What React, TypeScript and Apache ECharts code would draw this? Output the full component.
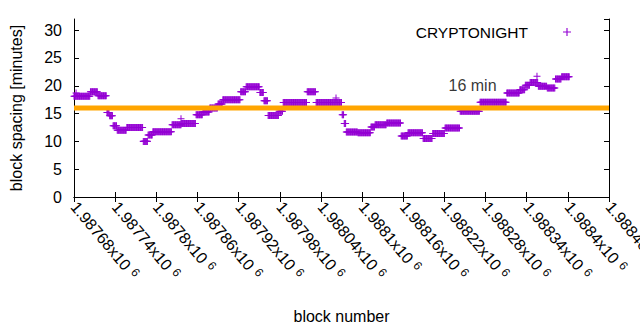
import React, { useEffect, useRef } from "react";
import * as echarts from "echarts";

// Plateaus of the block-spacing curve (start block, end block exclusive, minutes)
const runStart = [
  1987680, 1987704, 1987715, 1987728, 1987732, 1987737, 1987743, 1987757, 1987781, 1987788,
  1987795, 1987823, 1987837, 1987858, 1987868, 1987878, 1987890, 1987897, 1987923, 1987931,
  1987951, 1987957, 1987963, 1987979, 1987985, 1988020, 1988033, 1988071, 1988074, 1988077,
  1988094, 1988113, 1988119, 1988136, 1988157, 1988167, 1988189, 1988203, 1988221, 1988243,
  1988272, 1988311, 1988330, 1988338, 1988345, 1988357, 1988370, 1988382, 1988391,
];
const runEnd = [
  1987704, 1987715, 1987728, 1987732, 1987737, 1987743, 1987757, 1987781, 1987788, 1987795,
  1987823, 1987837, 1987858, 1987868, 1987878, 1987890, 1987897, 1987923, 1987931, 1987951,
  1987957, 1987963, 1987979, 1987985, 1988020, 1988033, 1988071, 1988074, 1988077, 1988094,
  1988113, 1988119, 1988136, 1988157, 1988167, 1988189, 1988203, 1988221, 1988243, 1988272,
  1988311, 1988330, 1988338, 1988345, 1988357, 1988370, 1988382, 1988391, 1988403,
];
const runValue = [
  18.1, 18.9, 18.2, 15.2, 14.6, 12.8, 12.0, 12.5, 10.0, 11.15,
  11.75, 13.0, 13.2, 14.8, 15.3, 16.0, 16.7, 17.5, 18.9, 19.8,
  18.8, 17.3, 14.65, 15.4, 17.0, 18.9, 17.0, 14.8, 13.2, 11.7,
  11.55, 12.6, 13.0, 13.3, 10.95, 11.55, 10.5, 11.4, 12.4, 15.4,
  17.05, 18.7, 19.3, 20.1, 20.6, 19.9, 19.6, 21.2, 21.6,
];
// Isolated outlying points
const spikeBlock = [1987683, 1987836, 1988062, 1988355];
const spikeValue = [18.7, 14.05, 17.8, 21.7];

const targetMinutes = 16;
const targetLabel = "16 min";
const targetLabelBlock = 1988226;
const targetLabelValue = 20.0;

const xMin = 1987680;
const xMax = 1988460;
const xStep = 60;
const yMin = 0;
const yMax = 32;
const yStep = 5;

const seriesName = "CRYPTONIGHT";
const PURPLE = "#9400D3";
const ORANGE = "#FFA500";
const FONT = "'Liberation Sans', Arial, Helvetica, sans-serif";
const PLUS = "path://M3,0H4V3H7V4H4V7H3V4H0V3H3Z";

function buildPoints(): [number, number][] {
  const pts: [number, number][] = [];
  for (let i = 0; i < runStart.length; i++) {
    for (let b = runStart[i]; b < runEnd[i]; b++) pts.push([b, runValue[i]]);
  }
  for (let i = 0; i < spikeBlock.length; i++) pts.push([spikeBlock[i], spikeValue[i]]);
  return pts;
}

function fmtX(v: number): string {
  const m = parseFloat((v / 1e6).toFixed(5)).toString();
  return `{a|${m}x10}{s|6}`;
}

export default function App() {
  const ref = useRef<HTMLDivElement>(null);
  useEffect(() => {
    document.body.style.margin = "0";
    if (!ref.current) return;
    const chart = echarts.init(ref.current, null, { renderer: "svg" });
    const axisLine = { show: true, lineStyle: { color: "#000", width: 1 } };
    const tick = { show: true, inside: true, length: 5, lineStyle: { color: "#000" } };
    chart.setOption({
      animation: false,
      textStyle: { fontFamily: FONT },
      grid: { left: 74, top: 19, width: 535, height: 178, outerBoundsMode: "none", containLabel: false },
      legend: {
        data: [{ name: seriesName, icon: PLUS }],
        right: 69,
        top: 24,
        padding: 0,
        align: "right",
        itemWidth: 8,
        itemHeight: 8,
        textStyle: { fontSize: 15.5, color: "#000", fontFamily: FONT, padding: [0, 30, 0, 0] },
      },
      xAxis: [
        {
          type: "value",
          min: xMin,
          max: xMax,
          interval: xStep,
          name: "block number",
          nameLocation: "middle",
          nameGap: 111,
          nameTextStyle: { fontSize: 16, color: "#000", fontFamily: FONT },
          axisLine,
          axisTick: tick,
          splitLine: { show: false },
          axisLabel: {
            rotate: -50,
            margin: 7,
            interval: 0,
            showMinLabel: true,
            showMaxLabel: true,
            hideOverlap: false,
            color: "#000",
            formatter: fmtX,
            rich: {
              a: { fontSize: 16, color: "#000", fontFamily: FONT },
              s: { fontSize: 12, color: "#000", fontFamily: FONT, padding: [0, 0, 6, 5] },
            },
          },
        },
        {
          type: "value",
          position: "top",
          min: xMin,
          max: xMax,
          interval: xStep,
          axisLine,
          axisTick: tick,
          axisLabel: { show: false },
          splitLine: { show: false },
        },
      ],
      yAxis: [
        {
          type: "value",
          min: yMin,
          max: yMax,
          interval: yStep,
          name: "block spacing [minutes]",
          nameLocation: "middle",
          nameGap: 50,
          nameTextStyle: { fontSize: 16, color: "#000", fontFamily: FONT },
          axisLine,
          axisTick: tick,
          splitLine: { show: false },
          axisLabel: {
            fontSize: 16,
            color: "#000",
            margin: 12,
            showMaxLabel: false,
            formatter: (v: number) => (v % yStep === 0 ? String(v) : ""),
          },
        },
        {
          type: "value",
          position: "right",
          min: yMin,
          max: yMax,
          interval: yStep,
          axisLine,
          axisTick: tick,
          axisLabel: { show: false },
          splitLine: { show: false },
        },
      ],
      series: [
        {
          name: seriesName,
          type: "scatter",
          symbol: PLUS,
          symbolSize: 7,
          itemStyle: { color: PURPLE, opacity: 1 },
          data: buildPoints(),
          z: 2,
        },
        {
          type: "line",
          data: [
            [xMin, targetMinutes],
            [xMax, targetMinutes],
          ],
          symbol: "none",
          lineStyle: { color: ORANGE, width: 5 },
          z: 3,
        },
        {
          type: "scatter",
          data: [[targetLabelBlock, targetLabelValue]],
          symbolSize: 0,
          silent: true,
          z: 4,
          label: {
            show: true,
            position: "right",
            distance: 0,
            formatter: targetLabel,
            fontSize: 16,
            color: "#000",
            fontFamily: FONT,
          },
        },
      ],
    });
    return () => chart.dispose();
  }, []);
  return <div ref={ref} style={{ width: 640, height: 330 }} />;
}
